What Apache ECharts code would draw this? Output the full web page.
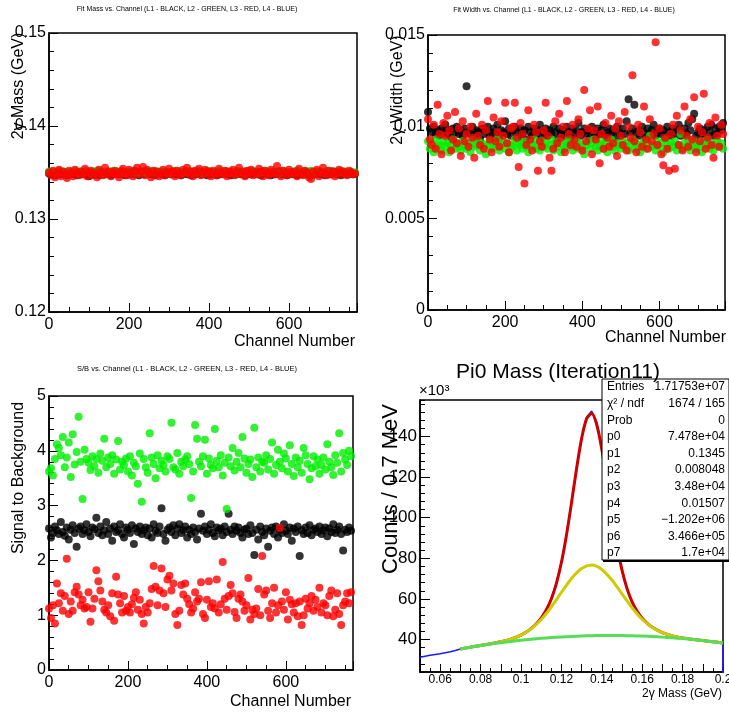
<!DOCTYPE html>
<html>
<head>
<meta charset="utf-8">
<title>Pi0 calibration</title>
<script src="https://cdn.jsdelivr.net/npm/echarts@6/dist/echarts.min.js"></script>
<style>
  body { margin: 0; background: #fff; }
  #main { width: 729px; height: 712px; }
</style>
</head>
<body>
<div id="main"></div>
<script>
// channel spacing of the points in the three scatter pads
var channelStep = 5;

// fit mass (GeV) per channel
var massL1 = [
  0.1349, 0.1348, 0.1350, 0.1347, 0.1349, 0.1351, 0.1348, 0.1349, 0.1350, 0.1347,
  0.1349, 0.1348, 0.1350, 0.1349, 0.1347, 0.1350, 0.1348, 0.1349, 0.1351, 0.1348,
  0.1346, 0.1349, 0.1350, 0.1348, 0.1349, 0.1347, 0.1350, 0.1349, 0.1348, 0.1350,
  0.1349, 0.1347, 0.1348, 0.1350, 0.1349, 0.1348, 0.1351, 0.1349, 0.1347, 0.1350,
  0.1348, 0.1349, 0.1350, 0.1348, 0.1349, 0.1347, 0.1350, 0.1349, 0.1348, 0.1351,
  0.1349, 0.1348, 0.1350, 0.1347, 0.1349, 0.1350, 0.1348, 0.1349, 0.1347, 0.1350,
  0.1349, 0.1348, 0.1351, 0.1349, 0.1348, 0.1350, 0.1347, 0.1349, 0.1350, 0.1348,
  0.1349, 0.1347, 0.1350, 0.1348, 0.1349, 0.1351, 0.1348, 0.1349, 0.1350, 0.1347,
  0.1349, 0.1348, 0.1350, 0.1349, 0.1347, 0.1350, 0.1348, 0.1349, 0.1351, 0.1348,
  0.1349, 0.1347, 0.1350, 0.1348, 0.1349, 0.1350, 0.1348, 0.1349, 0.1347, 0.1350,
  0.1349, 0.1348, 0.1351, 0.1349, 0.1348, 0.1350, 0.1347, 0.1349, 0.1350, 0.1348,
  0.1349, 0.1347, 0.1350, 0.1348, 0.1349, 0.1351, 0.1348, 0.1349, 0.1350, 0.1347,
  0.1349, 0.1348, 0.1350, 0.1349, 0.1347, 0.1350, 0.1348, 0.1349, 0.1351, 0.1348,
  0.1349, 0.1347, 0.1350, 0.1348, 0.1349, 0.1350, 0.1348, 0.1349, 0.1347, 0.1350,
  0.1349, 0.1348, 0.1351, 0.1349, 0.1348, 0.1350, 0.1347, 0.1349, 0.1350, 0.1348,
  0.1349, 0.1350, 0.1348, 0.1349
];
var massL2 = [
  0.1351, 0.1350, 0.1351, 0.1349, 0.1350, 0.1352, 0.1350, 0.1351, 0.1350, 0.1349,
  0.1350, 0.1351, 0.1350, 0.1352, 0.1350, 0.1349, 0.1351, 0.1350, 0.1350, 0.1351,
  0.1350, 0.1349, 0.1351, 0.1350, 0.1352, 0.1350, 0.1351, 0.1349, 0.1350, 0.1351,
  0.1350, 0.1350, 0.1352, 0.1349, 0.1351, 0.1350, 0.1350, 0.1351, 0.1349, 0.1350,
  0.1351, 0.1350, 0.1352, 0.1350, 0.1349, 0.1351, 0.1350, 0.1351, 0.1350, 0.1349,
  0.1351, 0.1350, 0.1350, 0.1352, 0.1350, 0.1349, 0.1351, 0.1350, 0.1351, 0.1350,
  0.1349, 0.1351, 0.1350, 0.1352, 0.1350, 0.1351, 0.1349, 0.1350, 0.1351, 0.1350,
  0.1352, 0.1350, 0.1349, 0.1351, 0.1350, 0.1350, 0.1351, 0.1349, 0.1350, 0.1352,
  0.1350, 0.1351, 0.1350, 0.1349, 0.1351, 0.1350, 0.1352, 0.1350, 0.1349, 0.1351,
  0.1350, 0.1351, 0.1350, 0.1349, 0.1352, 0.1350, 0.1351, 0.1350, 0.1349, 0.1351,
  0.1350, 0.1352, 0.1350, 0.1351, 0.1349, 0.1350, 0.1351, 0.1350, 0.1352, 0.1350,
  0.1349, 0.1351, 0.1350, 0.1350, 0.1351, 0.1349, 0.1350, 0.1352, 0.1350, 0.1351,
  0.1350, 0.1349, 0.1351, 0.1350, 0.1352, 0.1350, 0.1351, 0.1349, 0.1350, 0.1351,
  0.1350, 0.1352, 0.1350, 0.1349, 0.1351, 0.1350, 0.1351, 0.1350, 0.1349, 0.1352,
  0.1350, 0.1351, 0.1350, 0.1349, 0.1351, 0.1350, 0.1352, 0.1350, 0.1351, 0.1349,
  0.1350, 0.1351, 0.1350, 0.1350
];
var massL3 = [
  0.1350, 0.1347, 0.1352, 0.1345, 0.1349, 0.1353, 0.1346, 0.1351, 0.1348, 0.1344,
  0.1352, 0.1349, 0.1346, 0.1353, 0.1350, 0.1347, 0.1351, 0.1348, 0.1354, 0.1346,
  0.1350, 0.1352, 0.1347, 0.1349, 0.1345, 0.1353, 0.1350, 0.1347, 0.1355, 0.1348,
  0.1351, 0.1346, 0.1350, 0.1352, 0.1348, 0.1345, 0.1351, 0.1354, 0.1349, 0.1347,
  0.1353, 0.1350, 0.1346, 0.1352, 0.1355, 0.1348, 0.1351, 0.1356, 0.1347, 0.1353,
  0.1350, 0.1345, 0.1352, 0.1348, 0.1351, 0.1346, 0.1349, 0.1353, 0.1347, 0.1350,
  0.1354, 0.1348, 0.1351, 0.1346, 0.1352, 0.1349, 0.1347, 0.1353, 0.1350, 0.1355,
  0.1348, 0.1351, 0.1346, 0.1352, 0.1349, 0.1354, 0.1347, 0.1350, 0.1353, 0.1348,
  0.1351, 0.1346, 0.1352, 0.1349, 0.1347, 0.1354, 0.1350, 0.1348, 0.1352, 0.1346,
  0.1351, 0.1349, 0.1353, 0.1347, 0.1350, 0.1355, 0.1348, 0.1351, 0.1346, 0.1352,
  0.1349, 0.1353, 0.1347, 0.1350, 0.1348, 0.1354, 0.1351, 0.1346, 0.1352, 0.1349,
  0.1347, 0.1353, 0.1350, 0.1348, 0.1357, 0.1351, 0.1346, 0.1352, 0.1349, 0.1347,
  0.1353, 0.1350, 0.1348, 0.1351, 0.1346, 0.1354, 0.1349, 0.1347, 0.1352, 0.1350,
  0.1345, 0.1343, 0.1351, 0.1348, 0.1353, 0.1346, 0.1350, 0.1355, 0.1349, 0.1347,
  0.1352, 0.1348, 0.1351, 0.1346, 0.1350, 0.1353, 0.1348, 0.1351, 0.1349, 0.1347,
  0.1352, 0.1350, 0.1348, 0.1349
];

// fit width (GeV) per channel
var widthL1 = [
  0.0108, 0.0099, 0.0097, 0.0100, 0.0096, 0.0098, 0.0095, 0.0099, 0.0097, 0.0101,
  0.0096, 0.0098, 0.0094, 0.0099, 0.0097, 0.0100, 0.0096, 0.0098, 0.0095, 0.0099,
  0.0122, 0.0097, 0.0096, 0.0100, 0.0095, 0.0098, 0.0097, 0.0093, 0.0099, 0.0096,
  0.0098, 0.0100, 0.0095, 0.0097, 0.0099, 0.0096, 0.0101, 0.0094, 0.0098, 0.0097,
  0.0103, 0.0096, 0.0099, 0.0095, 0.0098, 0.0100, 0.0097, 0.0094, 0.0099, 0.0096,
  0.0098, 0.0093, 0.0100, 0.0097, 0.0095, 0.0099, 0.0096, 0.0098, 0.0101, 0.0094,
  0.0097, 0.0099, 0.0095, 0.0098, 0.0096, 0.0100, 0.0097, 0.0093, 0.0099, 0.0096,
  0.0098, 0.0095, 0.0100, 0.0097, 0.0094, 0.0099, 0.0096, 0.0098, 0.0102, 0.0095,
  0.0097, 0.0099, 0.0096, 0.0098, 0.0094, 0.0100, 0.0097, 0.0095, 0.0099, 0.0096,
  0.0098, 0.0101, 0.0095, 0.0097, 0.0099, 0.0096, 0.0098, 0.0094, 0.0100, 0.0097,
  0.0095, 0.0099, 0.0096, 0.0103, 0.0115, 0.0097, 0.0099, 0.0112, 0.0096, 0.0098,
  0.0095, 0.0100, 0.0097, 0.0094, 0.0099, 0.0096, 0.0098, 0.0101, 0.0095, 0.0097,
  0.0099, 0.0096, 0.0098, 0.0094, 0.0100, 0.0097, 0.0095, 0.0099, 0.0096, 0.0098,
  0.0101, 0.0095, 0.0097, 0.0099, 0.0096, 0.0102, 0.0098, 0.0104, 0.0107, 0.0095,
  0.0097, 0.0099, 0.0096, 0.0098, 0.0094, 0.0100, 0.0097, 0.0101, 0.0095, 0.0099,
  0.0096, 0.0100, 0.0098, 0.0102
];
var widthL2 = [
  0.0092, 0.0088, 0.0091, 0.0086, 0.0093, 0.0089, 0.0090, 0.0087, 0.0092, 0.0089,
  0.0091, 0.0086, 0.0090, 0.0093, 0.0088, 0.0091, 0.0089, 0.0087, 0.0092, 0.0090,
  0.0088, 0.0091, 0.0086, 0.0093, 0.0089, 0.0090, 0.0092, 0.0087, 0.0091, 0.0089,
  0.0085, 0.0090, 0.0092, 0.0088, 0.0091, 0.0089, 0.0093, 0.0087, 0.0090, 0.0092,
  0.0088, 0.0091, 0.0086, 0.0090, 0.0089, 0.0093, 0.0087, 0.0091, 0.0090, 0.0088,
  0.0092, 0.0089, 0.0086, 0.0091, 0.0090, 0.0093, 0.0088, 0.0090, 0.0087, 0.0092,
  0.0089, 0.0091, 0.0088, 0.0090, 0.0093, 0.0087, 0.0091, 0.0089, 0.0092, 0.0086,
  0.0090, 0.0088, 0.0091, 0.0093, 0.0089, 0.0087, 0.0090, 0.0092, 0.0088, 0.0091,
  0.0089, 0.0085, 0.0090, 0.0092, 0.0088, 0.0091, 0.0093, 0.0089, 0.0087, 0.0090,
  0.0092, 0.0088, 0.0091, 0.0086, 0.0090, 0.0093, 0.0089, 0.0087, 0.0091, 0.0090,
  0.0088, 0.0092, 0.0089, 0.0091, 0.0087, 0.0090, 0.0093, 0.0088, 0.0091, 0.0089,
  0.0086, 0.0090, 0.0092, 0.0088, 0.0091, 0.0095, 0.0089, 0.0090, 0.0087, 0.0092,
  0.0089, 0.0091, 0.0086, 0.0093, 0.0090, 0.0088, 0.0091, 0.0089, 0.0092, 0.0087,
  0.0090, 0.0096, 0.0088, 0.0091, 0.0089, 0.0093, 0.0087, 0.0090, 0.0092, 0.0088,
  0.0091, 0.0089, 0.0086, 0.0092, 0.0090, 0.0093, 0.0088, 0.0091, 0.0087, 0.0090,
  0.0092, 0.0089, 0.0091, 0.0088
];
var widthL3 = [
  0.0104, 0.0093, 0.0090, 0.0101, 0.0088, 0.0112, 0.0096, 0.0085, 0.0102, 0.0095,
  0.0106, 0.0098, 0.0087, 0.0093, 0.0108, 0.0091, 0.0099, 0.0084, 0.0103, 0.0092,
  0.0096, 0.0089, 0.0100, 0.0094, 0.0083, 0.0107, 0.0095, 0.0090, 0.0101, 0.0088,
  0.0098, 0.0114, 0.0093, 0.0086, 0.0105, 0.0092, 0.0097, 0.0089, 0.0103, 0.0095,
  0.0113, 0.0091, 0.0086, 0.0099, 0.0100, 0.0113, 0.0094, 0.0078, 0.0102, 0.0096,
  0.0069, 0.0090, 0.0109, 0.0093, 0.0087, 0.0101, 0.0097, 0.0076, 0.0092, 0.0089,
  0.0098, 0.0113, 0.0095, 0.0083, 0.0076, 0.0088, 0.0103, 0.0091, 0.0107, 0.0094,
  0.0100, 0.0086, 0.0114, 0.0096, 0.0090, 0.0101, 0.0093, 0.0089, 0.0104, 0.0096,
  0.0087, 0.0120, 0.0092, 0.0099, 0.0109, 0.0085, 0.0098, 0.0093, 0.0111, 0.0080,
  0.0096, 0.0088, 0.0102, 0.0094, 0.0089, 0.0106, 0.0091, 0.0099, 0.0084, 0.0103,
  0.0095, 0.0090, 0.0108, 0.0087, 0.0100, 0.0094, 0.0128, 0.0092, 0.0086, 0.0101,
  0.0097, 0.0089, 0.0111, 0.0093, 0.0088, 0.0104, 0.0092, 0.0096, 0.0146, 0.0090,
  0.0099, 0.0085, 0.0079, 0.0094, 0.0088, 0.0076, 0.0096, 0.0101, 0.0077, 0.0106,
  0.0090, 0.0098, 0.0087, 0.0111, 0.0095, 0.0089, 0.0104, 0.0093, 0.0116, 0.0086,
  0.0100, 0.0092, 0.0097, 0.0118, 0.0088, 0.0094, 0.0102, 0.0090, 0.0083, 0.0105,
  0.0095, 0.0089, 0.0101, 0.0096
];

// signal to background per channel
var sbL1 = [
  2.58, 2.42, 2.50, 2.62, 2.55, 2.48, 2.70, 2.52, 2.45, 2.60,
  2.38, 2.56, 2.64, 2.50, 2.25, 2.58, 2.62, 2.48, 2.55, 2.66,
  2.52, 2.44, 2.60, 2.57, 2.78, 2.50, 2.62, 2.46, 2.55, 2.70,
  2.48, 2.58, 2.36, 2.62, 2.52, 2.55, 2.66, 2.48, 2.42, 2.60,
  2.56, 2.50, 2.64, 2.30, 2.58, 2.52, 2.62, 2.48, 2.55, 2.60,
  2.46, 2.58, 2.42, 2.66, 2.54, 2.50, 2.62, 2.95, 2.48, 2.36,
  2.56, 2.60, 2.52, 2.64, 2.46, 2.58, 2.66, 2.50, 2.55, 2.62,
  2.42, 2.56, 2.48, 2.60, 2.52, 2.38, 2.58, 2.85, 2.54, 2.62,
  2.48, 2.56, 2.66, 2.50, 2.44, 2.60, 2.55, 2.58, 2.46, 2.62,
  2.52, 2.85, 2.56, 2.48, 2.62, 2.54, 2.60, 2.50, 2.42, 2.56,
  2.58, 2.48, 2.64, 2.50, 2.10, 2.56, 2.38, 2.62, 2.52, 2.46,
  2.58, 2.25, 2.54, 2.60, 2.48, 2.62, 2.42, 2.56, 2.50, 2.66,
  2.54, 2.48, 2.60, 2.36, 2.58, 2.52, 2.62, 2.08, 2.55, 2.48,
  2.60, 2.50, 2.64, 2.46, 2.56, 2.58, 2.52, 2.62, 2.48, 2.55,
  2.60, 2.44, 2.58, 2.52, 2.66, 2.50, 2.56, 2.62, 2.48, 2.18,
  2.56, 2.52, 2.60, 2.54
];
var sbL2 = [
  3.62, 3.68, 3.55, 3.85, 4.12, 4.05, 3.92, 4.25, 3.70, 3.88,
  4.15, 3.52, 4.30, 3.75, 3.98, 4.62, 3.80, 3.12, 4.02, 3.85,
  3.78, 3.65, 3.90, 3.72, 3.85, 3.60, 3.95, 3.82, 4.22, 3.70,
  3.88, 3.76, 3.92, 3.58, 3.84, 4.18, 3.66, 3.80, 3.74, 3.86,
  3.62, 3.90, 3.55, 3.78, 3.72, 3.40, 3.95, 3.07, 3.85, 3.70,
  3.60, 4.32, 3.88, 3.76, 3.50, 3.92, 3.68, 3.82, 3.74, 3.62,
  3.90, 3.85, 4.51, 3.70, 3.66, 3.96, 3.58, 3.80, 3.72, 3.84,
  3.90, 3.76, 3.14, 3.62, 4.47, 4.22, 3.80, 3.72, 3.90, 4.20,
  3.58, 3.86, 3.74, 3.68, 4.40, 3.82, 3.70, 3.92, 3.55, 3.78,
  2.94, 3.88, 3.72, 4.05, 3.64, 3.80, 3.96, 3.70, 4.25, 3.86,
  3.60, 3.76, 3.84, 3.52, 4.42, 3.70, 3.88, 3.62, 3.80, 3.78,
  3.92, 3.66, 3.85, 4.15, 3.58, 3.74, 4.02, 3.80, 3.68, 3.95,
  3.86, 3.62, 4.10, 3.76, 3.54, 3.88, 3.70, 3.82, 3.60, 4.05,
  3.92, 3.76, 3.48, 3.68, 3.90, 3.72, 3.84, 3.58, 3.74, 3.88,
  3.66, 4.12, 3.80, 3.70, 3.56, 3.92, 3.78, 4.32, 3.62, 3.96,
  3.84, 3.74, 4.00, 3.90
];
var sbL3 = [
  1.12, 0.95, 1.18, 0.85, 1.58, 1.22, 1.40, 1.08, 1.35, 2.03,
  1.02, 1.25, 1.08, 1.42, 1.52, 1.38, 1.18, 1.28, 1.12, 1.15,
  1.42, 0.88, 1.12, 1.30, 1.82, 1.62, 1.45, 1.25, 1.10, 1.05,
  1.18, 0.98, 1.40, 0.90, 1.70, 1.38, 1.22, 1.05, 1.35, 1.08,
  1.15, 1.05, 1.20, 1.32, 1.42, 1.10, 1.28, 1.02, 0.85, 1.15,
  1.05, 1.22, 1.48, 1.90, 1.52, 1.18, 1.45, 1.85, 1.40, 1.15,
  1.65, 1.72, 1.45, 1.58, 1.02, 0.82, 1.08, 1.55, 1.38, 1.58,
  1.30, 1.20, 1.05, 1.12, 1.42, 1.25, 1.30, 1.60, 1.02, 0.95,
  1.28, 1.62, 1.15, 1.22, 1.12, 1.65, 1.05, 1.20, 1.97, 1.30,
  1.10, 1.35, 1.55, 1.40, 1.06, 0.95, 1.30, 1.38, 1.25, 1.08,
  1.18, 1.68, 0.92, 1.10, 1.02, 1.12, 1.48, 1.00, 2.08, 1.38,
  1.45, 1.08, 0.95, 1.22, 1.50, 1.05, 1.18, 2.59, 1.25, 1.10,
  1.42, 0.92, 1.28, 1.20, 1.05, 1.22, 0.98, 1.25, 0.82, 1.00,
  1.30, 1.12, 1.22, 1.35, 1.08, 1.28, 1.15, 1.50, 1.05, 1.22,
  1.18, 1.00, 1.35, 1.45, 0.98, 1.10, 1.40, 1.02, 0.82, 1.18,
  1.25, 1.40, 1.22, 1.42
];

// pi0 mass histogram, counts in units of 10^3, bins every 2.5 MeV from 0.05 GeV
var histStart = 0.05;
var histStep = 0.0025;
var histCounts = [
  31.3, 31.8, 32.2, 32.6, 33.0, 33.5, 34.0, 34.6, 35.3, 35.8,
  36.2, 36.7, 37.1, 37.5, 38.0, 38.4, 38.9, 39.6, 40.3, 41.1,
  42.3, 43.7, 45.4, 47.8, 50.8, 54.8, 60.3, 67.9, 78.2, 91.6,
  107.5, 124.3, 139.4, 149.5, 152.6, 147.0, 134.5, 118.2, 101.4, 86.2,
  74.0, 64.9, 58.3, 53.6, 50.2, 47.7, 45.9, 44.4, 43.3, 42.4,
  41.8, 41.3, 40.8, 40.4, 40.1, 39.8, 39.5, 39.2, 38.9, 38.6,
  38.3
];

// total fit (red)
var totalFitX = [
  0.07, 0.075, 0.08, 0.085, 0.09, 0.095, 0.1, 0.1025, 0.105, 0.1075,
  0.11, 0.1125, 0.115, 0.1175, 0.12, 0.1225, 0.125, 0.1275, 0.13, 0.1325,
  0.135, 0.1375, 0.14, 0.1425, 0.145, 0.1475, 0.15, 0.1525, 0.155, 0.1575,
  0.16, 0.1625, 0.165, 0.17, 0.175, 0.18, 0.185, 0.19, 0.195, 0.2
];
var totalFit = [
  35.38, 36.25, 37.09, 37.94, 38.90, 40.20, 42.18, 43.58, 45.35, 47.63,
  50.59, 54.55, 60.00, 67.58, 77.94, 91.37, 107.33, 124.12, 138.98, 148.82,
  151.31, 145.81, 133.74, 117.83, 101.21, 86.25, 74.16, 65.08, 58.57, 53.89,
  50.49, 47.95, 46.02, 43.35, 41.78, 40.81, 40.11, 39.50, 38.89, 38.24
];

// wide gaussian + background (yellow) and background only (green)
var partFitX = [
  0.07, 0.075, 0.08, 0.085, 0.09, 0.095, 0.1, 0.105, 0.11, 0.115,
  0.12, 0.125, 0.13, 0.135, 0.14, 0.145, 0.15, 0.155, 0.16, 0.165,
  0.17, 0.175, 0.18, 0.185, 0.19, 0.195, 0.2
];
var wideFit = [
  35.38, 36.25, 37.09, 37.94, 38.90, 40.20, 42.17, 45.26, 49.86, 56.03,
  63.18, 70.07, 75.02, 76.67, 74.53, 69.29, 62.46, 55.65, 49.99, 45.96,
  43.35, 41.78, 40.81, 40.11, 39.50, 38.89, 38.24
];
var bkgFit = [
  35.37, 36.23, 37.04, 37.78, 38.46, 39.08, 39.64, 40.14, 40.58, 40.96,
  41.28, 41.54, 41.74, 41.89, 41.97, 41.99, 41.95, 41.85, 41.69, 41.47,
  41.18, 40.84, 40.44, 39.98, 39.46, 38.88, 38.24
];

var statNames = ['Entries', 'χ² / ndf', 'Prob', 'p0', 'p1', 'p2', 'p3', 'p4', 'p5', 'p6', 'p7'];
var statValues = ['1.71753e+07', '1674 / 165', '0', '7.478e+04', '0.1345', '0.008048',
  '3.48e+04', '0.01507', '−1.202e+06', '3.466e+05', '1.7e+04'];

var FONT = '"Liberation Sans", Arial, sans-serif';

function byChannel(values) {
  return values.map(function (v, i) { return [i * channelStep, v]; });
}
function pairs(xs, ys) {
  return ys.map(function (y, i) { return [xs[i], y]; });
}

var histData = histCounts.map(function (v, i) { return [histStart + i * histStep, v]; });
// histogram outline drops to zero at the last bin edge
histData.push([histData[histData.length - 1][0], 0]);

function channelAxis(grid) {
  return {
    type: 'value', gridIndex: grid, min: 0, max: 770, interval: 200,
    axisLine: { lineStyle: { color: '#000', width: 1.5 } },
    axisTick: { inside: true, length: 9, lineStyle: { color: '#000' } },
    minorTick: { show: true, splitNumber: 4, length: 5, lineStyle: { color: '#000' } },
    axisLabel: { color: '#000', fontSize: 16, fontFamily: FONT, margin: 5, showMaxLabel: false },
    splitLine: { show: false }
  };
}
function valueAxis(grid, min, max, interval) {
  return {
    type: 'value', gridIndex: grid, position: 'left', min: min, max: max, interval: interval,
    axisLine: { show: true, lineStyle: { color: '#000', width: 1.5 } },
    axisTick: { show: true, inside: true, length: 9, lineStyle: { color: '#000' } },
    minorTick: { show: true, splitNumber: 5, length: 5, lineStyle: { color: '#000' } },
    axisLabel: { color: '#000', fontSize: 16, fontFamily: FONT, margin: 3 },
    splitLine: { show: false }
  };
}
function dots(name, color, values, axis) {
  return {
    name: name, type: 'scatter', xAxisIndex: axis, yAxisIndex: axis,
    symbolSize: 8, itemStyle: { color: color }, data: byChannel(values)
  };
}
function text(str, x, y, size, align, extra) {
  var el = {
    type: 'text', x: x, y: y, z: 120,
    style: {
      text: str, fill: '#000', font: size + 'px ' + FONT,
      align: align || 'center', verticalAlign: 'middle'
    }
  };
  if (extra) { for (var k in extra) el[k] = extra[k]; }
  return el;
}

var gridBase = { show: true, borderColor: '#000', borderWidth: 1.5, backgroundColor: '#fff', outerBoundsMode: 'none' };
function grid(left, top, width, height) {
  return Object.assign({ left: left, top: top, width: width, height: height }, gridBase);
}

var graphics = [
  text('Fit Mass vs. Channel (L1 - BLACK, L2 - GREEN, L3 - RED, L4 - BLUE)', 187, 9, 7),
  text('Fit Width vs. Channel (L1 - BLACK, L2 - GREEN, L3 - RED, L4 - BLUE)', 564, 10, 7),
  text('S/B vs. Channel (L1 - BLACK, L2 - GREEN, L3 - RED, L4 - BLUE)', 187, 369, 7.5),
  text('2γ Mass (GeV)', 19, 86, 16, 'center', { rotation: Math.PI / 2 }),
  text('2γ Width (GeV)', 398, 90, 16, 'center', { rotation: Math.PI / 2 }),
  text('Signal to Background', 19, 478, 16, 'center', { rotation: Math.PI / 2 }),
  text('Counts / 0.7 MeV', 391, 489, 22, 'center', { rotation: Math.PI / 2 }),
  text('Channel Number', 355, 342, 16, 'right'),
  text('Channel Number', 726, 338, 16, 'right'),
  text('Channel Number', 351, 702, 16, 'right'),
  text('2γ Mass (GeV)', 722, 694, 12, 'right'),
  text('×10³', 419, 391, 15, 'left'),
  // stat box
  { type: 'rect', z: 110, shape: { x: 602, y: 379, width: 127, height: 181 },
    style: { fill: '#fff', stroke: '#000', lineWidth: 1 } },
  { type: 'line', z: 111, shape: { x1: 603, y1: 561, x2: 729, y2: 561 },
    style: { stroke: '#000', lineWidth: 2 } },
  text('Pi0 Mass (Iteration11)', 558, 372, 21)
];
statNames.forEach(function (n, i) {
  var y = 387 + i * 16.6;
  graphics.push(text(n, 607, y, 12, 'left'));
  graphics.push(text(statValues[i], 725, y, 12, 'right'));
});

var massAxis4 = valueAxis(3, 24, 158, 4);
massAxis4.minorTick = { show: false };
massAxis4.axisTick.length = 5;
massAxis4.axisLabel.fontSize = 17;
massAxis4.axisLabel.formatter = function (v) {
  return (v % 20 === 0 && v >= 40 && v <= 140) ? String(v) : '';
};

var option = {
  animation: false,
  backgroundColor: '#fff',
  grid: [
    grid(49, 33, 308, 279),
    grid(428, 35, 297, 275),
    grid(49, 396, 304, 274),
    grid(420, 400, 303, 272)
  ],
  xAxis: [
    channelAxis(0),
    channelAxis(1),
    channelAxis(2),
    {
      type: 'value', gridIndex: 3, min: 0.05, max: 0.2, interval: 0.01,
      axisLine: { lineStyle: { color: '#000', width: 1.5 } },
      axisTick: { inside: true, length: 8, lineStyle: { color: '#000' } },
      minorTick: { show: true, splitNumber: 2, length: 4, lineStyle: { color: '#000' } },
      axisLabel: {
        color: '#000', fontSize: 12, fontFamily: FONT, margin: 2,
        formatter: function (v) {
          return Math.round(v * 100) % 2 === 0 ? String(+v.toFixed(2)) : '';
        }
      },
      splitLine: { show: false }
    }
  ],
  yAxis: [
    valueAxis(0, 0.12, 0.15, 0.01),
    valueAxis(1, 0, 0.015, 0.005),
    valueAxis(2, 0, 5, 1),
    massAxis4,
    {
      // longer ticks at the labelled values
      type: 'value', gridIndex: 3, position: 'left', min: 24, max: 158,
      axisLine: { show: false },
      axisLabel: { show: false },
      axisTick: { show: true, inside: true, length: 10, customValues: [40, 60, 80, 100, 120, 140],
        lineStyle: { color: '#000' } },
      splitLine: { show: false }
    }
  ],
  graphic: { elements: graphics },
  series: [
    dots('L1', '#000000', massL1, 0),
    dots('L2', '#00ee00', massL2, 0),
    dots('L3', '#ff0000', massL3, 0),
    dots('L1', '#000000', widthL1, 1),
    dots('L2', '#00ee00', widthL2, 1),
    dots('L3', '#ff0000', widthL3, 1),
    dots('L1', '#000000', sbL1, 2),
    dots('L2', '#00ee00', sbL2, 2),
    dots('L3', '#ff0000', sbL3, 2),
    {
      name: 'data', type: 'line', xAxisIndex: 3, yAxisIndex: 3, showSymbol: false,
      lineStyle: { color: '#1a1aff', width: 1.5 }, data: histData
    },
    {
      name: 'total fit', type: 'line', xAxisIndex: 3, yAxisIndex: 3, showSymbol: false, smooth: 0.3,
      lineStyle: { color: '#cc0000', width: 3 }, data: pairs(totalFitX, totalFit)
    },
    {
      name: 'wide', type: 'line', xAxisIndex: 3, yAxisIndex: 3, showSymbol: false, smooth: 0.3,
      lineStyle: { color: '#cccc00', width: 3 }, data: pairs(partFitX, wideFit)
    },
    {
      name: 'background', type: 'line', xAxisIndex: 3, yAxisIndex: 3, showSymbol: false, smooth: 0.3,
      lineStyle: { color: '#55dd55', width: 3 }, data: pairs(partFitX, bkgFit)
    }
  ]
};

var myChart = echarts.init(document.getElementById('main'));
myChart.setOption(option);
</script>
</body>
</html>
